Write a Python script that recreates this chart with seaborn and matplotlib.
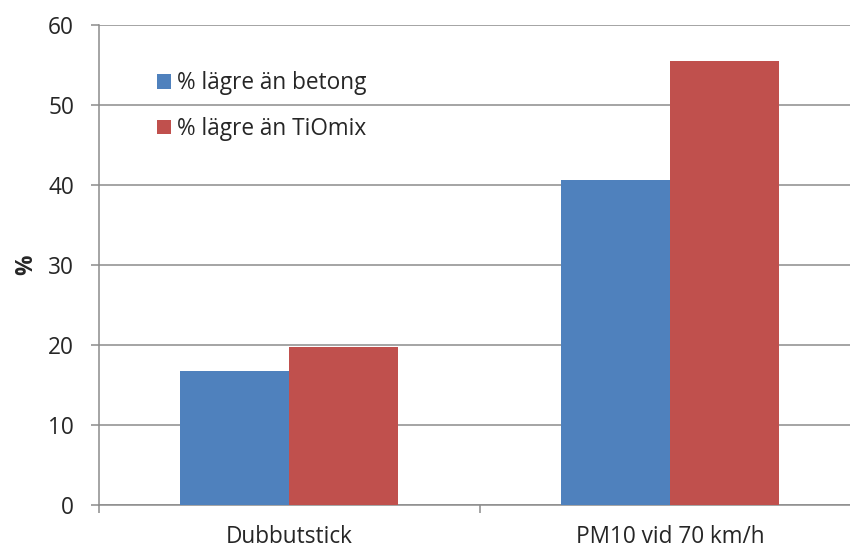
import matplotlib
matplotlib.use("Agg")
import matplotlib.pyplot as plt
import seaborn as sns
import pandas as pd

categories = ["Dubbutstick", "PM10 vid 70 km/h"]
series_names = ["% lägre än betong", "% lägre än TiOmix"]
betong = [16.8, 40.6]
tiomix = [19.8, 55.5]
yticks = [0, 10, 20, 30, 40, 50, 60]
colors = ["#4F81BD", "#C0504D"]

df = pd.DataFrame({
    "cat": categories * 2,
    "series": [series_names[0]] * 2 + [series_names[1]] * 2,
    "val": betong + tiomix,
})

sns.set_style("white")
plt.rcParams["font.family"] = ["Open Sans", "DejaVu Sans"]

FS = 16.3
fig = plt.figure(figsize=(8.5, 5.52), dpi=100)
ax = fig.add_axes([0.1165, 0.0846, 0.8958, 0.8710])

sns.barplot(data=df, x="cat", y="val", hue="series", palette=colors,
            width=0.573, dodge=True, ax=ax, saturation=1, linewidth=0,
            zorder=3)

ax.set_xlim(-0.5, 1.5)
ax.set_ylim(0, 60)
ax.set_yticks(yticks)
ax.set_yticklabels([str(t) for t in yticks], fontsize=FS)
ax.yaxis.grid(True, color="#8C8C8C", linewidth=1.1, zorder=0)
ax.set_axisbelow(True)

ax.set_xticks([-0.5, 0.5, 1.5])
ax.set_xticklabels([])
ax.set_xticks([0, 1], minor=True)
ax.set_xticklabels(categories, minor=True, fontsize=FS)
ax.tick_params(axis="x", which="major", direction="out", length=6,
               color="#8C8C8C", width=1.1, bottom=True)
ax.tick_params(axis="x", which="minor", length=0, pad=14)
ax.tick_params(axis="y", direction="out", length=6, color="#8C8C8C",
               width=1.1, left=True, pad=12)

for s in ["top", "right"]:
    ax.spines[s].set_visible(False)
for s in ["left", "bottom"]:
    ax.spines[s].set_color("#8C8C8C")
    ax.spines[s].set_linewidth(1.1)

ax.set_xlabel("")
ax.set_ylabel("%", fontsize=FS, fontweight="bold", labelpad=7)

leg = ax.legend(loc="upper left", bbox_to_anchor=(0.049, 0.945), frameon=False,
                fontsize=FS, handlelength=0.61, handleheight=0.61,
                handletextpad=0.3, labelspacing=0.95)

fig.savefig("out.png", dpi=100)
